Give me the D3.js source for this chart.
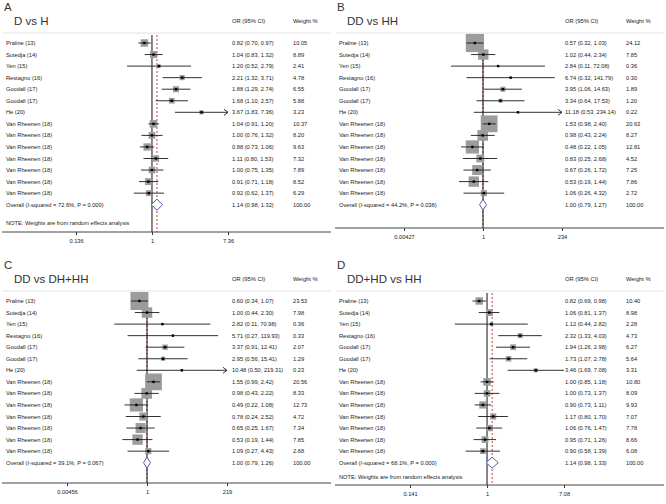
<!DOCTYPE html>
<html><head><meta charset="utf-8">
<script src="https://cdn.jsdelivr.net/npm/d3@7"></script>
<style>
html,body{margin:0;padding:0;background:#fff;}
svg text{font-family:"Liberation Sans",Arial,sans-serif;fill:#1a1a1a;}
</style></head>
<body>
<svg id="chart" width="666" height="504"></svg>
<script>
// ---------- data ----------
const studies = ["Praline (13)","Sutedja (14)","Yen (15)","Restagno (16)","Goodall (17)","Goodall (17)","He (20)",
  "Van Rheenen (18)","Van Rheenen (18)","Van Rheenen (18)","Van Rheenen (18)","Van Rheenen (18)","Van Rheenen (18)","Van Rheenen (18)"];

// Panel A: D vs H
const A_or = [0.82,1.04,1.20,2.21,1.88,1.68,3.67,1.04,1.00,0.88,1.11,1.00,0.91,0.92];
const A_lo = [0.70,0.83,0.52,1.32,1.29,1.10,1.83,0.91,0.76,0.73,0.80,0.75,0.71,0.62];
const A_hi = [0.97,1.32,2.79,3.71,2.74,2.57,7.36,1.20,1.32,1.06,1.53,1.35,1.18,1.37];
const A_w  = [10.05,8.89,2.41,4.78,6.55,5.88,3.23,10.37,8.20,9.63,7.32,7.89,8.52,6.29];
const A_overall = [1.14,0.98,1.32];
const A_het = ["72.6%","0.000"];
const A_ticks = [0.136,1,7.36];
const A_tickLabels = ["0.136","1","7.36"];

// Panel B: DD vs HH
const B_or = [0.57,1.02,2.84,6.74,3.95,3.34,11.18,1.53,0.98,0.48,0.83,0.67,0.53,1.06];
const B_lo = [0.32,0.44,0.11,0.32,1.06,0.64,0.53,0.98,0.43,0.22,0.25,0.26,0.19,0.26];
const B_hi = [1.03,2.34,72.08,141.79,14.63,17.53,234.14,2.40,2.24,1.05,2.68,1.72,1.44,4.32];
const B_w  = [24.12,7.85,0.36,0.30,1.89,1.20,0.22,20.63,8.27,12.81,4.52,7.25,7.86,2.72];
const B_overall = [1.00,0.79,1.27];
const B_het = ["44.2%","0.038"];
const B_ticks = [0.00427,1,234];
const B_tickLabels = ["0.00427","1","234"];

// Panel C: DD vs DH+HH
const C_or = [0.60,1.00,2.82,5.71,3.37,2.95,10.48,1.55,0.98,0.49,0.78,0.65,0.53,1.09];
const C_lo = [0.34,0.44,0.11,0.27,0.91,0.56,0.50,0.99,0.43,0.22,0.24,0.25,0.19,0.27];
const C_hi = [1.07,2.30,70.98,119.93,12.41,15.41,219.31,2.42,2.22,1.08,2.52,1.67,1.44,4.43];
const C_w  = [23.53,7.98,0.36,0.33,2.07,1.29,0.23,20.56,8.33,12.73,4.72,7.34,7.85,2.68];
const C_overall = [1.00,0.79,1.26];
const C_het = ["39.1%","0.067"];
const C_ticks = [0.00456,1,219];
const C_tickLabels = ["0.00456","1","219"];

// Panel D: DD+HD vs HH
const D_or = [0.82,1.06,1.12,2.32,1.94,1.73,3.46,1.00,1.00,0.90,1.17,1.06,0.95,0.90];
const D_lo = [0.69,0.81,0.44,1.33,1.26,1.07,1.69,0.85,0.73,0.73,0.80,0.76,0.71,0.58];
const D_hi = [0.98,1.37,2.82,4.03,2.98,2.78,7.08,1.18,1.37,1.11,1.70,1.47,1.26,1.39];
const D_w  = [10.40,8.98,2.28,4.73,6.27,5.64,3.31,10.80,8.09,9.93,7.07,7.78,8.66,6.08];
const D_overall = [1.14,0.98,1.33];
const D_het = ["68.1%","0.000"];
const D_ticks = [0.141,1,7.08];
const D_tickLabels = ["0.141","1","7.08"];

const noteText = "NOTE: Weights are from random effects analysis";

// ---------- layout ----------
const panels = [
  {letter:"A", title:"D vs H", px:0, oy:0, or:A_or, lo:A_lo, hi:A_hi, w:A_w, ov:A_overall, het:A_het,
   ticks:A_ticks, tl:A_tickLabels, range:[76,228], k:2.35, note:true, noteY:223, axisY:232, arrow:true},
  {letter:"B", title:"DD vs HH", px:333, oy:0, or:B_or, lo:B_lo, hi:B_hi, w:B_w, ov:B_overall, het:B_het,
   ticks:B_ticks, tl:B_tickLabels, range:[71,229], k:3.7, note:false, axisY:228, arrow:true},
  {letter:"C", title:"DD vs DH+HH", px:0, oy:258, or:C_or, lo:C_lo, hi:C_hi, w:C_w, ov:C_overall, het:C_het,
   ticks:C_ticks, tl:C_tickLabels, range:[67,227], k:3.7, note:false, axisY:225, arrow:true},
  {letter:"D", title:"DD+HD vs HH", px:333, oy:258, or:D_or, lo:D_lo, hi:D_hi, w:D_w, ov:D_overall, het:D_het,
   ticks:D_ticks, tl:D_tickLabels, range:[77,231], k:2.3, note:true, noteY:219, axisY:227, arrow:false}
];

const svg = d3.select("#chart");
const fmt = d3.format(".2f");
const rowStep = 11.55;
const fs = "5.7px";

panels.forEach(p => {
  const g = svg.append("g").attr("transform", `translate(${p.px},${p.oy})`);
  const x = d3.scaleLog().domain([p.ticks[0], p.ticks[2]]).range(p.range);
  const rowY = i => 43 + i * rowStep;
  const n = p.or.length;
  const topY = 35;

  g.append("text").attr("x", 4).attr("y", 11).style("font-size", "11.5px").style("fill", "#333").text(p.letter);
  g.append("text").attr("x", 14).attr("y", 24.5).style("font-size", "11.5px").style("fill", "#333").text(p.title);
  g.append("text").attr("x", 232).attr("y", 22.5).style("font-size", "5.8px").text("OR (95% CI)");
  g.append("text").attr("x", 293).attr("y", 22.5).style("font-size", "5.8px").text("Weight %");
  g.append("line").attr("x1", 3).attr("x2", 331).attr("y1", 33).attr("y2", 33)
    .attr("stroke", "#e2e2e2").attr("stroke-width", 1);

  // reference lines
  g.append("line").attr("x1", x(p.ov[0])).attr("x2", x(p.ov[0])).attr("y1", topY).attr("y2", p.axisY)
    .attr("stroke", "#c43030").attr("stroke-width", 0.9).attr("stroke-dasharray", "2,2");
  g.append("line").attr("x1", x(1)).attr("x2", x(1)).attr("y1", topY).attr("y2", p.axisY)
    .attr("stroke", "#111").attr("stroke-width", 1);

  // study rows
  const rows = g.selectAll("g.row").data(d3.range(n)).join("g").attr("class", "row");
  rows.append("rect")
    .attr("x", i => x(p.or[i]) - p.k * Math.sqrt(p.w[i]) / 2)
    .attr("y", i => rowY(i) - p.k * Math.sqrt(p.w[i]) / 2)
    .attr("width", i => p.k * Math.sqrt(p.w[i]))
    .attr("height", i => p.k * Math.sqrt(p.w[i]))
    .attr("fill", "#9c9c9c");
  rows.append("line")
    .attr("x1", i => x(Math.max(p.lo[i], p.ticks[0])))
    .attr("x2", i => x(Math.min(p.hi[i], p.ticks[2])))
    .attr("y1", i => rowY(i)).attr("y2", i => rowY(i))
    .attr("stroke", "#1a1a1a").attr("stroke-width", 0.9);
  rows.append("rect")
    .attr("x", i => x(p.or[i]) - 1.2).attr("y", i => rowY(i) - 1.2)
    .attr("width", 2.4).attr("height", 2.4).attr("fill", "#000");
  if (p.arrow) {
    rows.filter(i => p.hi[i] >= p.ticks[2]).append("path")
      .attr("d", i => { const xe = x(p.ticks[2]), y = rowY(i); return `M${xe-4},${y-3}L${xe},${y}L${xe-4},${y+3}`; })
      .attr("fill", "none").attr("stroke", "#1a1a1a").attr("stroke-width", 0.9);
  }
  rows.append("text").attr("x", 6).attr("y", i => rowY(i) + 2).style("font-size", fs).text(i => studies[i]);
  rows.append("text").attr("x", 232).attr("y", i => rowY(i) + 2).style("font-size", fs)
    .text(i => `${fmt(p.or[i])} (${fmt(p.lo[i])}, ${fmt(p.hi[i])})`);
  rows.append("text").attr("x", 293).attr("y", i => rowY(i) + 2).style("font-size", fs)
    .text(i => fmt(p.w[i]));

  // overall
  const oyRow = rowY(n);
  g.append("path")
    .attr("d", `M${x(p.ov[1])},${oyRow}L${x(p.ov[0])},${oyRow-5.5}L${x(p.ov[2])},${oyRow}L${x(p.ov[0])},${oyRow+5.5}Z`)
    .attr("fill", "#fff").attr("stroke", "#5656a8").attr("stroke-width", 1);
  g.append("text").attr("x", 6).attr("y", oyRow + 2).style("font-size", fs)
    .text(`Overall  (I-squared = ${p.het[0]}, P = ${p.het[1]})`);
  g.append("text").attr("x", 232).attr("y", oyRow + 2).style("font-size", fs)
    .text(`${fmt(p.ov[0])} (${fmt(p.ov[1])}, ${fmt(p.ov[2])})`);
  g.append("text").attr("x", 293).attr("y", oyRow + 2).style("font-size", fs).text(fmt(100));

  if (p.note) {
    g.append("text").attr("x", 6).attr("y", p.noteY + 2).style("font-size", fs).text(noteText);
  }

  // axis
  const axis = d3.axisBottom(x).tickValues(p.ticks).tickFormat((d, i) => p.tl[i]).tickSize(3).tickPadding(4);
  const ag = g.append("g").attr("transform", `translate(0,${p.axisY})`).call(axis);
  ag.select(".domain").remove();
  ag.selectAll("text").style("font-size", fs).style("font-family", "'Liberation Sans',Arial,sans-serif").attr("fill", "#1a1a1a");
  ag.selectAll(".tick line").attr("stroke", "#333");
  g.append("line").attr("x1", 2).attr("x2", 331).attr("y1", p.axisY).attr("y2", p.axisY)
    .attr("stroke", "#444").attr("stroke-width", 1);
});
</script>
</body></html>
